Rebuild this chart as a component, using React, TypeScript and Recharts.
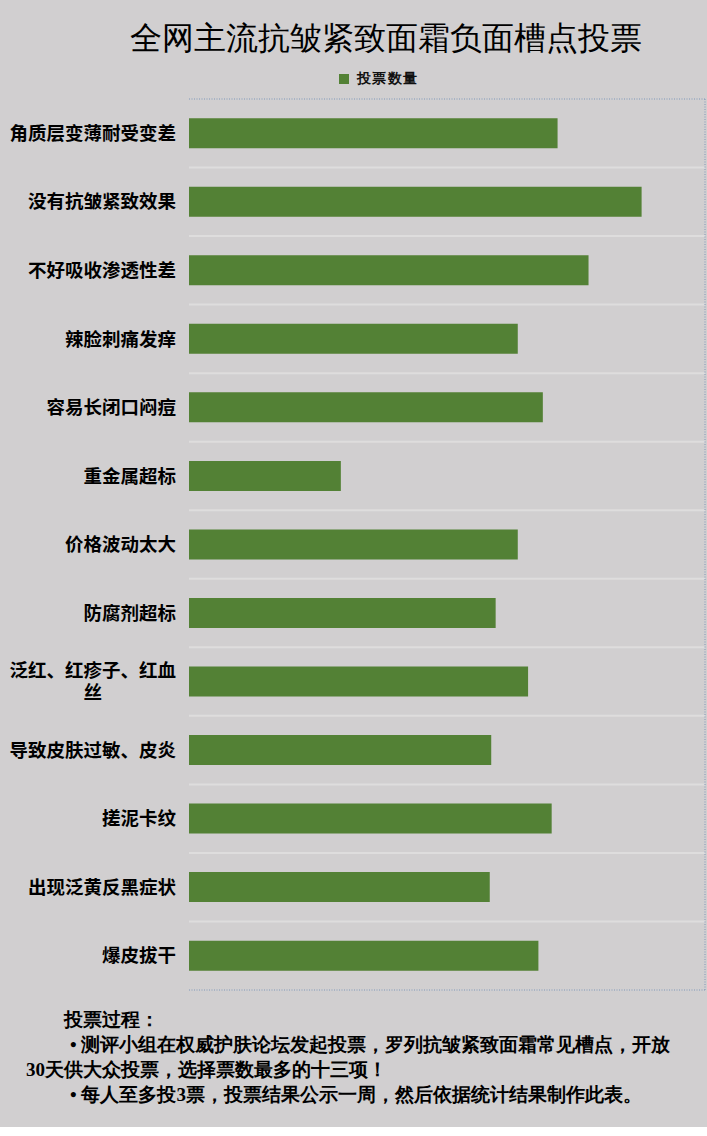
import React from "react";
import { BarChart, Bar, XAxis, YAxis, CartesianGrid, Legend } from "recharts";

const categories = [
  "角质层变薄耐受变差",
  "没有抗皱紧致效果",
  "不好吸收渗透性差",
  "辣脸刺痛发痒",
  "容易长闭口闷痘",
  "重金属超标",
  "价格波动太大",
  "防腐剂超标",
  "泛红、红疹子、红血丝",
  "导致皮肤过敏、皮炎",
  "搓泥卡纹",
  "出现泛黄反黑症状",
  "爆皮拔干",
];
const votes = [250, 307, 271, 223, 240, 103, 223, 208, 230, 205, 246, 204, 237];
const seriesName = "投票数量";
const title = "全网主流抗皱紧致面霜负面槽点投票";
const footerHeading = "投票过程：";
const footerLines = [
  "• 测评小组在权威护肤论坛发起投票，罗列抗皱紧致面霜常见槽点，开放",
  "30天供大众投票，选择票数最多的十三项！",
  "• 每人至多投3票，投票结果公示一周，然后依据统计结果制作此表。",
];
const axisMax = 350;

const data = categories.map((c, i) => ({ name: c, value: votes[i] }));

const BG = "#d1cfd0";
const GREEN = "#538135";
const LABEL_FONT = 18.5;
const MAX_CHARS = 9;

const CategoryTick = (props: any) => {
  const { x, y, payload } = props;
  const text: string = String(payload.value);
  if (text.length <= MAX_CHARS) {
    return (
      <text
        x={x}
        y={y}
        dy="0.36em"
        textAnchor="end"
        fontSize={LABEL_FONT}
        fontWeight={700}
        fontFamily="'Noto Sans CJK SC', sans-serif"
        fill="#000"
      >
        {text}
      </text>
    );
  }
  const lines: string[] = [];
  for (let i = 0; i < text.length; i += MAX_CHARS) lines.push(text.slice(i, i + MAX_CHARS));
  const blockWidth = MAX_CHARS * LABEL_FONT;
  const cx = x - blockWidth / 2;
  const lh = 21.5;
  const startY = y - ((lines.length - 1) * lh) / 2;
  return (
    <text
      textAnchor="middle"
      fontSize={LABEL_FONT}
      fontWeight={700}
      fontFamily="'Noto Sans CJK SC', sans-serif"
      fill="#000"
    >
      {lines.map((l, i) => (
        <tspan key={i} x={cx} y={startY + i * lh} dy="0.36em">
          {l}
        </tspan>
      ))}
    </text>
  );
};

const LegendContent = () => (
  <div
    style={{
      display: "flex",
      justifyContent: "center",
      alignItems: "center",
      height: 20,
      paddingLeft: 52,
      fontFamily: "serif",
      fontSize: 14,
      fontWeight: 700,
      color: "#111",
    }}
  >
    <span style={{ display: "inline-block", width: 10, height: 10, background: GREEN, marginRight: 8 }} />
    <span style={{ letterSpacing: 1.5 }}>{seriesName}</span>
  </div>
);

export default function App() {
  return (
    <div
      style={{
        position: "absolute",
        left: 0,
        top: 0,
        width: 707,
        height: 1127,
        background: BG,
        overflow: "hidden",
      }}
    >
      <div
        style={{
          position: "absolute",
          top: 16,
          left: 65,
          width: 642,
          textAlign: "center",
          fontFamily: "serif",
          fontSize: 32,
          lineHeight: "44px",
          color: "#000",
        }}
      >
        {title}
      </div>
      <div style={{ position: "absolute", left: 0, top: 0 }}>
        <BarChart
          width={707}
          height={1000}
          data={data}
          layout="vertical"
          margin={{ top: 79, right: 2, bottom: 10, left: 0 }}
          barCategoryGap="28%"
        >
          <CartesianGrid
            vertical={false}
            stroke="#dedddd"
            strokeWidth={2}
            horizontalCoordinatesGenerator={(p: any) => {
              const { offset } = p;
              const n = categories.length;
              const arr: number[] = [];
              for (let i = 1; i < n; i++) arr.push(offset.top + (offset.height * i) / n);
              return arr;
            }}
          />
          <CartesianGrid
            stroke="#7f97b8"
            strokeDasharray="1 1.5"
            strokeWidth={1}
            horizontalCoordinatesGenerator={(p: any) => [p.offset.top, p.offset.top + p.offset.height]}
            verticalCoordinatesGenerator={(p: any) => [p.offset.left + p.offset.width]}
          />
          <XAxis type="number" domain={[0, axisMax]} hide />
          <YAxis
            type="category"
            dataKey="name"
            width={189}
            axisLine={false}
            tickLine={false}
            tickSize={0}
            tickMargin={13}
            interval={0}
            tick={<CategoryTick />}
          />
          <Legend
            verticalAlign="top"
            align="center"
            height={20}
            wrapperStyle={{ top: 69 }}
            content={<LegendContent />}
          />
          <Bar dataKey="value" name={seriesName} fill={GREEN} isAnimationActive={false} />
        </BarChart>
      </div>
      <div
        style={{
          position: "absolute",
          top: 1007,
          left: 0,
          width: 707,
          fontFamily: "serif",
          fontSize: 19,
          lineHeight: "25px",
          color: "#000",
          fontWeight: 600,
        }}
      >
        <div style={{ paddingLeft: 64 }}>{footerHeading}</div>
        <div style={{ paddingLeft: 70 }}>{footerLines[0]}</div>
        <div style={{ paddingLeft: 26 }}>{footerLines[1]}</div>
        <div style={{ paddingLeft: 70 }}>{footerLines[2]}</div>
      </div>
    </div>
  );
}
